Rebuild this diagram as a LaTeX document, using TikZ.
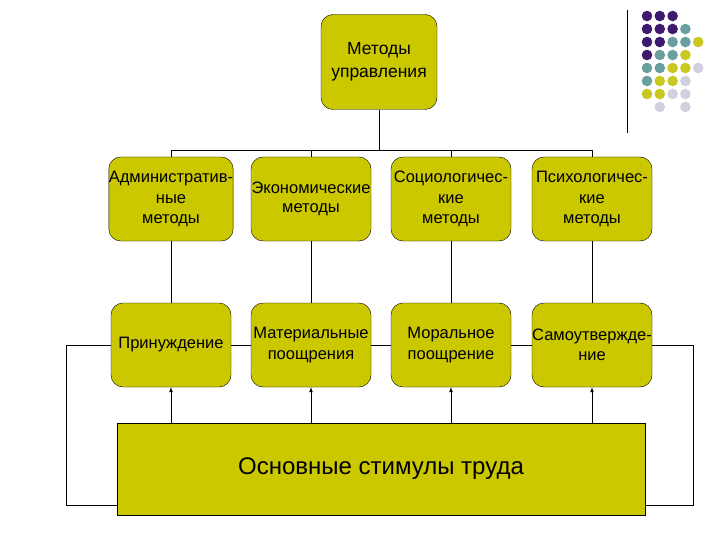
\documentclass[tikz,border=0pt]{standalone}
\usepackage{fontspec}
\setmainfont{Liberation Sans}
\definecolor{ol}{HTML}{CCC800}
\definecolor{pp}{HTML}{3D1A6E}
\definecolor{tl}{HTML}{6A9FA0}
\definecolor{yy}{HTML}{C8C820}
\definecolor{lv}{HTML}{D0D0E0}
\begin{document}
\begin{tikzpicture}[x=1pt,y=-1pt,
 box/.style={draw,fill=ol,rounded corners=12pt,minimum width=120pt,minimum height=84pt,align=center,font=\fontsize{16.5}{20.5}\selectfont,inner sep=0pt},
 ln/.style={draw,line width=0.7pt},
 ar/.style={ln,-latex}]
\useasboundingbox (0,0) rectangle (720,540);
\node[box,minimum width=116pt,minimum height=95pt,font=\fontsize{17.5}{23}\selectfont] (top) at (379,62) {Методы\\управления};
\foreach \n/\x/\t in {a/171/Административ-\\ные\\методы, b/311/\raisebox{-9pt}{Экономические}\\\raisebox{-7pt}{методы}, c/451/Социологичес-\\кие\\методы, d/592/Психологичес-\\кие\\методы}
  \node[box] (\n) at (\x,199) {\t};
\foreach \n/\x/\t in {e/171/Принуждение, f/311/Материальные\\поощрения, g/451/Моральное\\поощрение, h/592/Самоутвержде-\\ние}
  \node[box] (\n) at (\x,345) {\t};
\node[draw,fill=ol,minimum width=528pt,minimum height=92pt,font=\fontsize{24}{28}\selectfont] (m) at (381,469) {Основные стимулы труда};
\coordinate (j) at (379,150);
\draw[ln] (top.south) -- (j);
\foreach \n in {a,b,c,d} \draw[ln] (j -| \n) -- (\n.north);
\draw[ln] (j -| a) -- (j -| d);
\draw[ln] (a) -- (e); \draw[ln] (b) -- (f); \draw[ln] (c) -- (g); \draw[ln] (d) -- (h);
\draw[ln] (e) -- (f); \draw[ln] (f) -- (g); \draw[ln] (g) -- (h);
\foreach \n in {e,f,g,h} \draw[ar] (m.north -| \n) -- (\n.south);
\coordinate (l1) at (66,345); \coordinate (l2) at (66,505);
\coordinate (r1) at (693,345); \coordinate (r2) at (693,505);
\draw[ln] (e.west) -- (l1) -- (l2) -- (l2 -| m.west);
\draw[ln] (h.east) -- (r1) -- (r2) -- (r2 -| m.east);
\draw[line width=1pt] (627,10) -- (627,133);
\foreach \r/\row in {0/{pp,pp,pp,,},1/{pp,pp,pp,tl,},2/{pp,pp,tl,tl,yy},3/{pp,tl,tl,yy,},4/{tl,tl,yy,yy,lv},5/{tl,yy,yy,lv,},6/{yy,yy,lv,lv,},7/{,lv,,lv,}}{
  \foreach \c [count=\i from 0] in \row {
    \ifx\c\empty\else \fill[\c] (647+12.8*\i,16+13*\r) circle (5.3pt);\fi
  }}
\end{tikzpicture}
\end{document}
